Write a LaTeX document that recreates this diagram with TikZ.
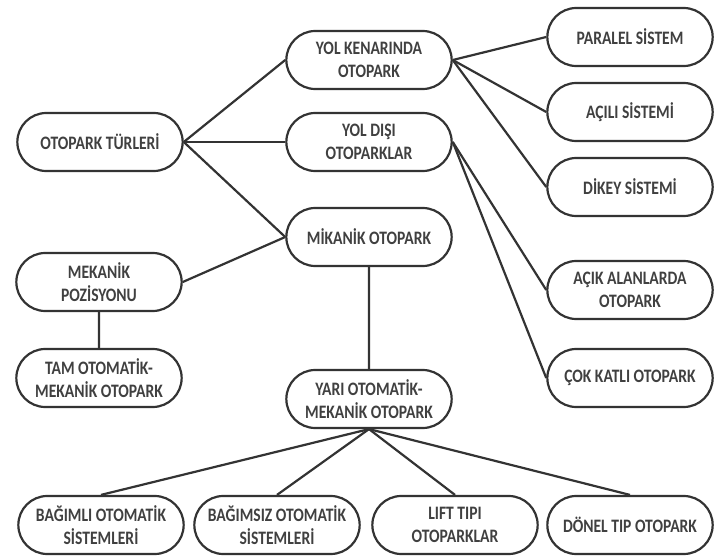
\documentclass[tikz,border=0pt]{standalone}
\usepackage{fontspec}
\setmainfont{Carlito}[FakeStretch=0.82]
\usepackage{tikz}
\usetikzlibrary{shapes.misc}

\begin{document}
\begin{tikzpicture}[x=1pt, y=-1pt, line width=2.2pt, draw=black!80,
  every node/.style={rounded rectangle, draw=black!80, line width=2.2pt, minimum width=172pt, minimum height=58pt, align=center, font=\fontsize{19}{23}\selectfont\bfseries, text=black!75}]
\useasboundingbox (0,0) rectangle (715,556);

% Ana dal
\node (turler) at (100,142) {OTOPARK TÜRLERİ};
\node (kenar) at (369,60) {YOL KENARINDA\\OTOPARK};
\node (disi) at (369,142) {YOL DIŞI\\OTOPARKLAR};
\node (mikanik) at (369,237) {MİKANİK OTOPARK};

% Mekanik dal
\node (pozisyon) at (99,282) {MEKANİK\\POZİSYONU};
\node (tam) at (99,378) {TAM OTOMATİK-\\MEKANİK OTOPARK};
\node (yari) at (369,399) {YARI OTOMATİK-\\MEKANİK OTOPARK};

% Sag sutun
\node (paralel) at (630,37) {PARALEL SİSTEM};
\node (acili) at (630,112) {AÇILI SİSTEMİ};
\node (dikey) at (630,187) {DİKEY SİSTEMİ};
\node (acik) at (630,290) {AÇIK ALANLARDA\\OTOPARK};
\node (katli) at (630,378) {ÇOK KATLI OTOPARK};

% Alt sira
\node (bagimli) at (101,525) {BAĞIMLI OTOMATİK\\SİSTEMLERİ};
\node (bagimsiz) at (277,525) {BAĞIMSIZ OTOMATİK\\SİSTEMLERİ};
\node (lift) at (455,525) {LIFT TIPI\\OTOPARKLAR};
\node (donel) at (630,525) {DÖNEL TIP OTOPARK};

% Baglantilar
\draw (turler.east) -- (kenar.west);
\draw (turler.east) -- (disi.west);
\draw (turler.east) -- (mikanik.west);
\draw (pozisyon.east) -- (mikanik.west);
\draw (pozisyon) -- (tam);
\draw (mikanik) -- (yari);

\draw (kenar.east) -- (paralel.west);
\draw (kenar.east) -- (acili.west);
\draw (kenar.east) -- (dikey.west);
\draw (disi.east) -- (acik.west);
\draw (disi.east) -- (katli.west);

\draw (yari.south) -- (bagimli.north);
\draw (yari.south) -- (bagimsiz.north);
\draw (yari.south) -- (lift.north);
\draw (yari.south) -- (donel.north);

\end{tikzpicture}
\end{document}
